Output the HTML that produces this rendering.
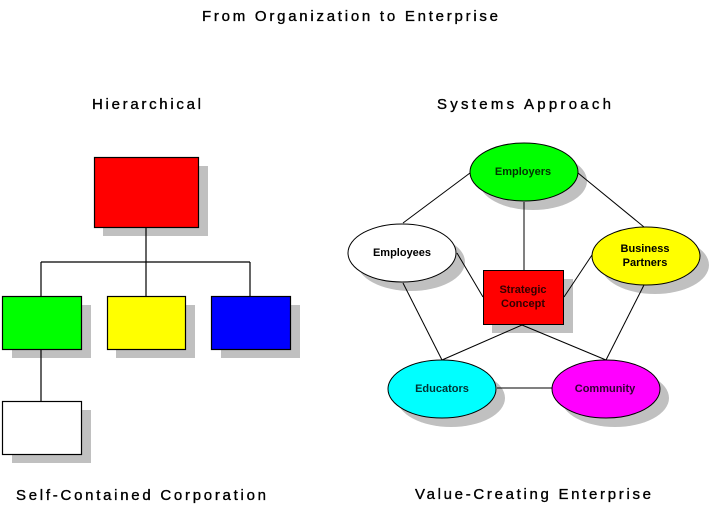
<!DOCTYPE html>
<html><head><meta charset="utf-8"><style>html,body{margin:0;padding:0;background:#fff}svg{display:block}</style></head>
<body>
<svg width="711" height="508" viewBox="0 0 711 508" xmlns="http://www.w3.org/2000/svg" font-family="Liberation Sans, Arial, sans-serif">
<g font-size="15" fill="#000" stroke="#000" stroke-width="0.35">
<text x="202" y="21" textLength="296" lengthAdjust="spacing">From Organization to Enterprise</text>
<text x="92" y="109" textLength="109" lengthAdjust="spacing">Hierarchical</text>
<text x="437" y="109" textLength="174" lengthAdjust="spacing">Systems Approach</text>
<text x="16" y="500" textLength="250" lengthAdjust="spacing">Self-Contained Corporation</text>
<text x="415" y="499" textLength="236" lengthAdjust="spacing">Value-Creating Enterprise</text>
</g>
<!-- left hierarchy -->
<g fill="#c0c0c0">
<rect x="103" y="166" width="105" height="70"/>
<rect x="12" y="305" width="79" height="53"/>
<rect x="116" y="305" width="79" height="53"/>
<rect x="221" y="305" width="79" height="53"/>
<rect x="12" y="410" width="79" height="53"/>
</g>
<g stroke="#000" stroke-width="1.2" fill="none">
<line x1="146" y1="227" x2="146" y2="296"/>
<line x1="41" y1="262" x2="250" y2="262"/>
<line x1="41" y1="262" x2="41" y2="296"/>
<line x1="250" y1="262" x2="250" y2="296"/>
<line x1="41" y1="349" x2="41" y2="401"/>
</g>
<g stroke="#000" stroke-width="1.2">
<rect x="94.5" y="157.5" width="104" height="70" fill="#ff0000"/>
<rect x="2.5" y="296.5" width="79" height="53" fill="#00ff00"/>
<rect x="107.5" y="296.5" width="78" height="53" fill="#ffff00"/>
<rect x="211.5" y="296.5" width="79" height="53" fill="#0000ff"/>
<rect x="2.5" y="401.5" width="79" height="53" fill="#ffffff"/>
</g>
<!-- right systems -->
<g fill="#c0c0c0">
<ellipse cx="533" cy="181" rx="54" ry="29"/>
<ellipse cx="411" cy="262" rx="54" ry="29"/>
<ellipse cx="655" cy="265" rx="54" ry="29"/>
<rect x="492" y="279" width="81" height="54"/>
<ellipse cx="451" cy="398" rx="54" ry="29"/>
<ellipse cx="615" cy="398" rx="54" ry="29"/>
</g>
<g stroke="#000" stroke-width="1">
<line x1="470" y1="173" x2="403" y2="223"/>
<line x1="578" y1="173" x2="644" y2="227"/>
<line x1="524" y1="202" x2="524" y2="270"/>
<line x1="457" y1="253" x2="483" y2="297"/>
<line x1="592" y1="255" x2="564" y2="297"/>
<line x1="403" y1="283" x2="442" y2="360"/>
<line x1="644" y1="285" x2="606" y2="360"/>
<line x1="522" y1="325" x2="442" y2="360"/>
<line x1="522" y1="325" x2="606" y2="360"/>
<line x1="497" y1="388" x2="552" y2="388"/>
</g>
<g stroke="#000" stroke-width="1">
<ellipse cx="524" cy="172" rx="54" ry="29" fill="#00ff00"/>
<ellipse cx="402" cy="253" rx="54" ry="29" fill="#ffffff"/>
<ellipse cx="646" cy="256" rx="54" ry="29" fill="#ffff00"/>
<rect x="483.5" y="270.5" width="80" height="54" fill="#ff0000"/>
<ellipse cx="442" cy="389" rx="54" ry="29" fill="#00ffff"/>
<ellipse cx="606" cy="389" rx="54" ry="29" fill="#ff00ff"/>
</g>
<g font-size="11" font-weight="bold" text-anchor="middle">
<text x="523" y="175" fill="#003300">Employers</text>
<text x="402" y="256" fill="#000">Employees</text>
<text x="645" y="252" fill="#000">Business</text>
<text x="645" y="266" fill="#000">Partners</text>
<text x="523" y="293" fill="#330000">Strategic</text>
<text x="523" y="307" fill="#330000">Concept</text>
<text x="442" y="392" fill="#003333">Educators</text>
<text x="605" y="392" fill="#330033">Community</text>
</g>
</svg>
</body></html>
